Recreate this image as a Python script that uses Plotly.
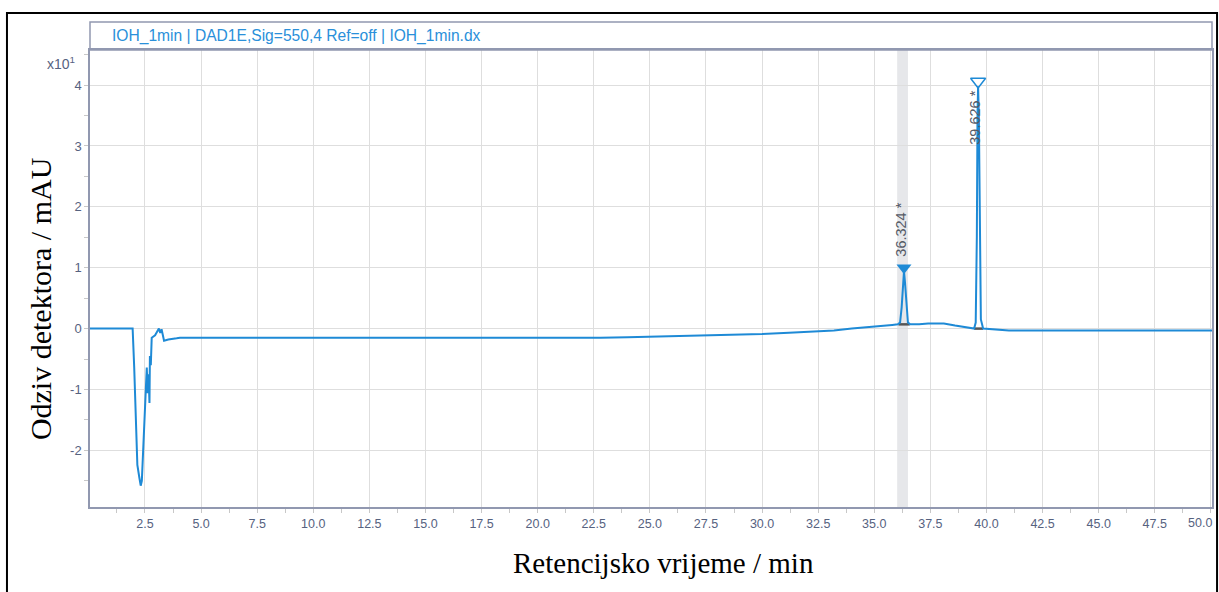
import plotly.graph_objects as go

# ---------------- data (signal in units of x10 mAU) ----------------
time_min = [0.0, 1.95, 2.02, 2.10, 2.16, 2.25, 2.31, 2.36, 2.43, 2.50, 2.54, 2.58,
            2.62, 2.66, 2.70, 2.72, 2.76, 2.80, 2.95, 3.05, 3.12, 3.18, 3.24, 3.35,
            3.54, 3.91, 4.06, 6.0, 8.5, 9.0, 9.1, 10.5, 12.0, 12.1, 14.0, 16.5,
            19.0, 19.1, 21.0, 22.8, 24.0, 25.5, 27.2, 28.5, 30.0, 31.2, 32.4, 33.2,
            34.0, 35.1, 35.8, 36.05, 36.15, 36.22, 36.28, 36.324, 36.37, 36.43,
            36.50, 36.60, 37.0, 37.4, 38.1, 38.6, 39.3, 39.45, 39.52, 39.57, 39.60,
            39.626, 39.66, 39.70, 39.75, 39.85, 40.2, 40.6, 41.0, 45.0, 50.05]
signal = [0.0, 0.0, -0.64, -1.44, -2.24, -2.45, -2.58, -2.50, -1.88, -1.17, -0.89, -0.64,
          -1.06, -0.75, -1.22, -0.45, -0.60, -0.15, -0.11, -0.05, 0.0, -0.07, -0.01, -0.20,
          -0.18, -0.16, -0.15, -0.15, -0.15, -0.16, -0.15, -0.16, -0.16, -0.15, -0.16, -0.16,
          -0.16, -0.15, -0.15, -0.15, -0.14, -0.13, -0.12, -0.11, -0.09, -0.07, -0.05, -0.03,
          0.0, 0.03, 0.06, 0.07, 0.10, 0.35, 0.75, 0.94, 0.75, 0.35,
          0.10, 0.07, 0.07, 0.085, 0.085, 0.05, 0.0, 0.0, 0.10, 1.5, 3.5,
          3.98, 3.5, 1.5, 0.15, 0.0, -0.01, -0.02, -0.03, -0.03, -0.03]

peak_times = [36.324, 39.626]
peak_labels = ["36.324 *", "39.626 *"]
peak_marker_y = [1.0, 4.06]
peak_label_y = [1.63, 3.47]
peak_base_t = [[36.08, 36.58], [39.45, 39.85]]
peak_base_v = [[0.07, 0.07], [0.0, 0.0]]
shade_range = [36.02, 36.50]

x_ticks = [2.5 * i for i in range(1, 21)]
x_tick_text = ["%.1f" % v for v in x_ticks]
y_ticks = [-2, -1, 0, 1, 2, 3, 4]
y_tick_text = ["-2", "-1", "0", "1", "2", "3", "4"]

BLUE = "#1e8ad6"
SLATE = "#56627f"
FRAME = "#9198b0"
TICKFONT = dict(family="Arial, Liberation Sans", size=12.5, color=SLATE)

fig = go.Figure()

# integration baselines
for bt, bv in zip(peak_base_t, peak_base_v):
    fig.add_trace(go.Scatter(x=bt, y=bv, mode="lines",
                             line=dict(color="#555555", width=2.5),
                             hoverinfo="skip", showlegend=False))

fig.add_trace(go.Scatter(x=time_min, y=signal, mode="lines",
                         line=dict(color=BLUE, width=2), showlegend=False))

# peak markers
fig.add_trace(go.Scatter(x=[peak_times[0]], y=[peak_marker_y[0]], mode="markers",
                         marker=dict(symbol="triangle-down", size=13, color=BLUE),
                         showlegend=False))
fig.add_trace(go.Scatter(x=[peak_times[1]], y=[peak_marker_y[1]], mode="markers",
                         marker=dict(symbol="triangle-down-open", size=13, color=BLUE,
                                     line=dict(width=1.5, color=BLUE)),
                         showlegend=False))

for pt, lbl, ly in zip(peak_times, peak_labels, peak_label_y):
    fig.add_annotation(x=pt - 0.12, y=ly, text=lbl, showarrow=False, textangle=-90,
                       font=dict(family="Arial, Liberation Sans", size=14.5, color="#555a66"),
                       xanchor="center", yanchor="middle")

# shaded peak region
fig.add_shape(type="rect", xref="x", yref="paper", x0=shade_range[0], x1=shade_range[1],
              y0=0, y1=1, fillcolor="#e6e7ea", line=dict(width=0), layer="below")

# title band
fig.add_shape(type="rect", xref="paper", yref="paper", x0=0, x1=1, y0=1, y1=1.0613,
              line=dict(color=FRAME, width=1.5), fillcolor="rgba(0,0,0,0)")
fig.add_annotation(xref="paper", yref="paper", x=0.0178, y=1.0306,
                   text="IOH_1min | DAD1E,Sig=550,4 Ref=off | IOH_1min.dx",
                   showarrow=False, xanchor="left", yanchor="middle",
                   font=dict(family="Arial, Liberation Sans", size=15.6, color="#2a90da"))

# outer black frame
fig.add_shape(type="rect", xref="paper", yref="paper", x0=-0.074, x1=1.0045,
              y0=-0.23, y1=1.081, line=dict(color="black", width=2),
              fillcolor="rgba(0,0,0,0)")

# exponent label
fig.add_annotation(xref="paper", yref="paper", x=-0.0115, y=0.972,
                   text="x10<sup>1</sup>", showarrow=False, xanchor="right", yanchor="middle",
                   font=dict(family="Arial, Liberation Sans", size=14, color=SLATE))

# last x tick label, pulled inside the figure edge as in the original
fig.add_annotation(xref="paper", yref="paper", x=1.0018, y=-0.0345,
                   text=x_tick_text[-1], showarrow=False, xanchor="right", yanchor="middle",
                   font=TICKFONT)

# axis titles
fig.add_annotation(xref="paper", yref="paper", x=-0.0446, y=0.457,
                   text="Odziv detektora / mAU", showarrow=False, textangle=-90,
                   xanchor="center", yanchor="middle",
                   font=dict(family="Liberation Serif, Times New Roman", size=30, color="black"))
fig.add_annotation(xref="paper", yref="paper", x=0.5107, y=-0.1225,
                   text="Retencijsko vrijeme / min", showarrow=False,
                   xanchor="center", yanchor="middle",
                   font=dict(family="Liberation Serif, Times New Roman", size=29, color="black"))

fig.update_layout(
    width=1219, height=592,
    margin=dict(l=90, r=7, t=50, b=85, autoexpand=False),
    paper_bgcolor="white", plot_bgcolor="white",
    showlegend=False,
)
fig.update_xaxes(
    range=[0.05, 50.05], tickvals=x_ticks, ticktext=x_tick_text[:-1] + [""],
    ticklabeloverflow="allow", automargin=False,
    showgrid=True, gridcolor="#dedede", gridwidth=1,
    showline=True, linecolor=FRAME, linewidth=1.5, mirror=True,
    ticks="outside", ticklen=4, tickcolor="#c8c8c8",
    minor=dict(dtick=1.25, tick0=0, ticks="outside", ticklen=4, tickcolor="#c8c8c8", showgrid=False),
    tickfont=TICKFONT,
    zeroline=False,
)
fig.update_yaxes(
    range=[-2.93, 4.576], tickvals=y_ticks, ticktext=y_tick_text, automargin=False,
    showgrid=True, gridcolor="#dedede", gridwidth=1,
    showline=True, linecolor=FRAME, linewidth=1.5, mirror=True,
    ticks="outside", ticklen=4, tickcolor="#c8c8c8",
    minor=dict(dtick=0.5, tick0=0, ticks="outside", ticklen=4, tickcolor="#c8c8c8", showgrid=False),
    tickfont=dict(family="Arial, Liberation Sans", size=13, color=SLATE),
    zeroline=False,
)

fig.write_html("out.html", config={"displayModeBar": False},
               post_script="document.body.style.margin='0';document.body.style.overflow='hidden';")
